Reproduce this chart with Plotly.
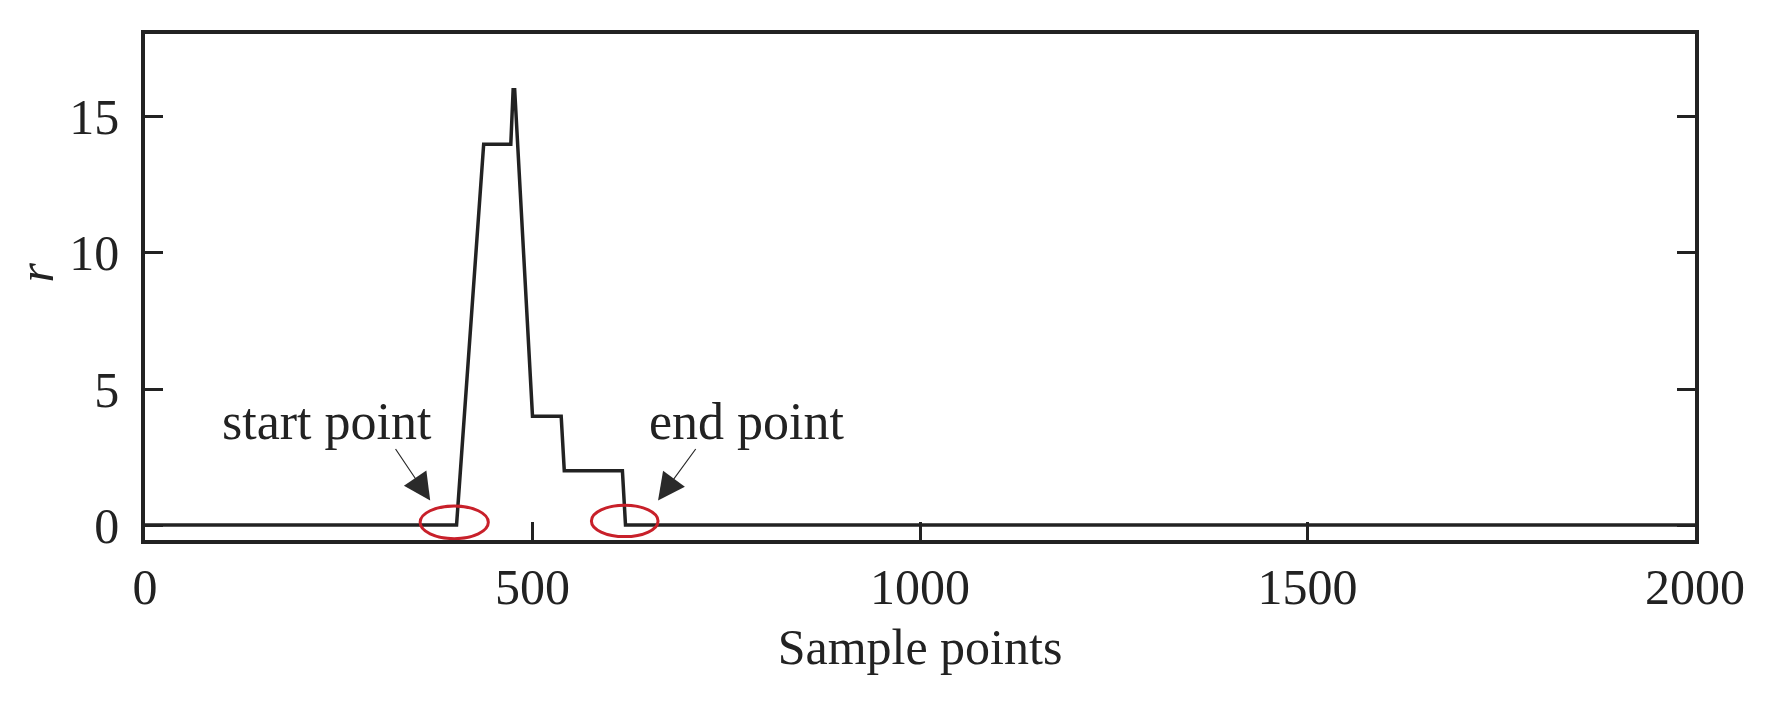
import plotly.graph_objects as go

# r versus sample index (piecewise)
sample_idx = [0, 402, 437, 472, 475, 477, 500, 537, 541, 616, 620, 2000]
r_vals = [0, 0, 14, 14, 16, 16, 4, 4, 2, 2, 0, 0]

x_ticks = [0, 500, 1000, 1500, 2000]
y_ticks = [0, 5, 10, 15]

# start/end markers: (center x, center y, width, height) in data units
start_pt = (399, 0.1, 88, 1.2)
end_pt = (619, 0.15, 86, 1.15)

FONT = "Liberation Serif"
INK = "#222222"

fig = go.Figure()
fig.add_trace(go.Scatter(
    x=sample_idx, y=r_vals, mode="lines",
    line=dict(color=INK, width=3.5), showlegend=False,
))

for cx, cy, w, h in (start_pt, end_pt):
    fig.add_shape(type="circle", xref="x", yref="y",
                  x0=cx - w / 2, x1=cx + w / 2, y0=cy - h / 2, y1=cy + h / 2,
                  line=dict(color="#c8202a", width=3))

# labels + arrows
fig.add_annotation(x=235, y=3.8, xref="x", yref="y", text="start point",
                   showarrow=False, font=dict(family=FONT, size=52, color=INK))
fig.add_annotation(x=777, y=3.8, xref="x", yref="y", text="end point",
                   showarrow=False, font=dict(family=FONT, size=52, color=INK))
fig.add_annotation(x=368, y=0.9, ax=322, ay=2.85, xref="x", yref="y",
                   axref="x", ayref="y", text="", showarrow=True,
                   arrowhead=2, arrowsize=4.5, arrowwidth=1.2, arrowcolor="#2a2a2a")
fig.add_annotation(x=662, y=0.9, ax=712, ay=2.85, xref="x", yref="y",
                   axref="x", ayref="y", text="", showarrow=True,
                   arrowhead=2, arrowsize=4.5, arrowwidth=1.2, arrowcolor="#2a2a2a")

# y-axis label (rotated italic r)
fig.add_annotation(x=-0.07, y=9.3, xref="paper", yref="y", text="<i>r</i>",
                   textangle=-90, showarrow=False, xanchor="center", yanchor="middle",
                   font=dict(family=FONT, size=50, color=INK))

fig.update_xaxes(
    range=[0, 2000], tickvals=x_ticks, ticks="inside", ticklen=18, tickwidth=3,
    tickcolor=INK, showline=True, linecolor=INK, linewidth=3.5, mirror=True,
    showgrid=False, zeroline=False,
    tickfont=dict(family=FONT, size=50, color=INK),
    title=dict(text="Sample points", font=dict(family=FONT, size=50, color=INK), standoff=16),
)
fig.update_yaxes(
    range=[-0.55, 18.05], tickvals=y_ticks, ticks="inside", ticklen=18, tickwidth=3,
    tickcolor=INK, showline=True, linecolor=INK, linewidth=3.5, mirror="ticks",
    showgrid=False, zeroline=False, ticklabelstandoff=12,
    tickfont=dict(family=FONT, size=50, color=INK),
)
# the page adds an 8px body margin, so margins are offset to compensate
fig.update_layout(
    width=1781, height=709,
    margin=dict(l=137, r=94, t=26, b=177),
    plot_bgcolor="white", paper_bgcolor="white",
)

fig.write_html("out.html")
